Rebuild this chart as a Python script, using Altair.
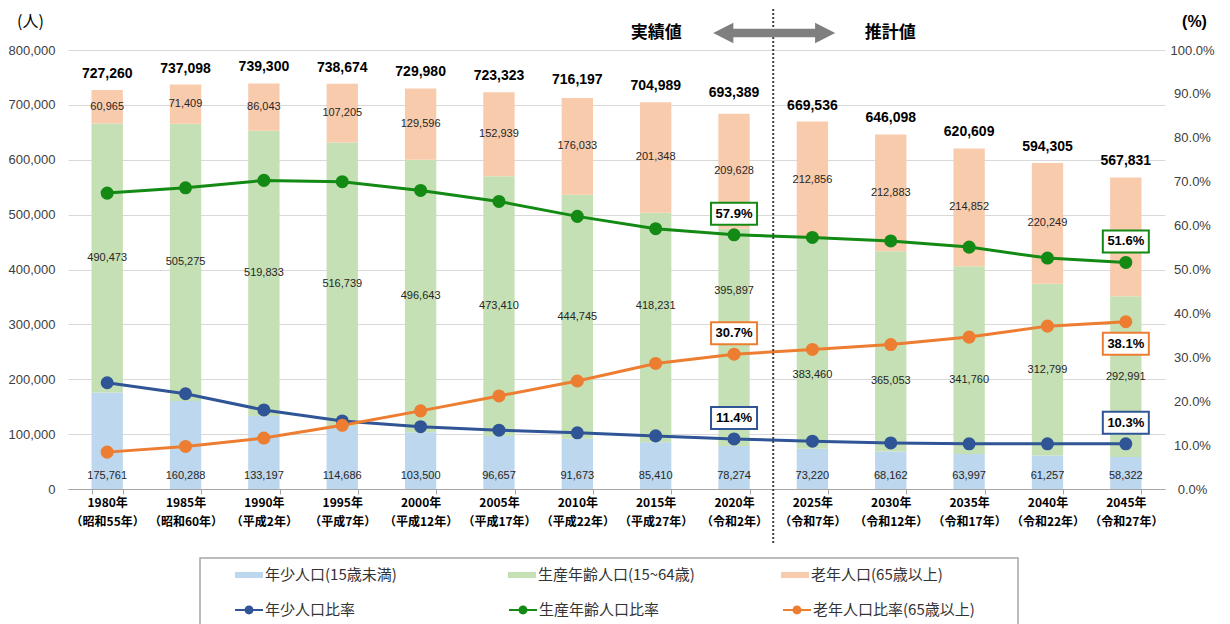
import altair as alt
import pandas as pd

# ---------------- data ----------------
years = ["1980年", "1985年", "1990年", "1995年", "2000年", "2005年", "2010年",
         "2015年", "2020年", "2025年", "2030年", "2035年", "2040年", "2045年"]
eras = ["（昭和55年）", "（昭和60年）", "（平成2年）", "（平成7年）", "（平成12年）",
        "（平成17年）", "（平成22年）", "（平成27年）", "（令和2年）", "（令和7年）",
        "（令和12年）", "（令和17年）", "（令和22年）", "（令和27年）"]
youth = [175761, 160288, 133197, 114686, 103500, 96657, 91673, 85410, 78274,
         73220, 68162, 63997, 61257, 58322]
working = [490473, 505275, 519833, 516739, 496643, 473410, 444745, 418231, 395897,
           383460, 365053, 341760, 312799, 292991]
elderly = [60965, 71409, 86043, 107205, 129596, 152939, 176033, 201348, 209628,
           212856, 212883, 214852, 220249, 216518]
total = [727260, 737098, 739300, 738674, 729980, 723323, 716197, 704989, 693389,
         669536, 646098, 620609, 594305, 567831]
youth_ratio = [24.2, 21.7, 18.0, 15.5, 14.2, 13.4, 12.8, 12.1, 11.4, 10.9, 10.5, 10.3, 10.3, 10.3]
working_ratio = [67.4, 68.6, 70.3, 70.0, 68.0, 65.5, 62.1, 59.3, 57.9, 57.3, 56.5, 55.1, 52.6, 51.6]
elderly_ratio = [8.4, 9.7, 11.6, 14.5, 17.8, 21.2, 24.6, 28.6, 30.7, 31.8, 32.9, 34.6, 37.1, 38.1]

bar_series = ["年少人口(15歳未満)", "生産年齢人口(15~64歳)", "老年人口(65歳以上)"]
ratio_series = ["年少人口比率", "生産年齢人口比率", "老年人口比率(65歳以上)"]
bar_colors = ["#BDD7EE", "#C5E0B4", "#F8CBAD"]
line_colors = ["#2F5597", "#138A13", "#ED7D31"]

# label anchors for working-age labels that were moved in the original (people units)
working_label_anchor = {"2015年": 332700, "2020年": 360600, "2025年": 208600,
                        "2030年": 196400, "2035年": 199500}
hidden_labels = {("2045年", 2)}
callout_years = ["2020年", "2045年"]
callout_below = {("2045年", 2)}

cats = [f"{y}|{e}" for y, e in zip(years, eras)]

# ---------------- tables ----------------
bar_rows = []
for i, c in enumerate(cats):
    vals = [youth[i], working[i], elderly[i]]
    base = 0
    for k, s in enumerate(bar_series):
        v = vals[k]
        mid = base + v / 2
        if k == 1 and years[i] in working_label_anchor:
            mid = working_label_anchor[years[i]]
        lab = "" if (years[i], k) in hidden_labels else f"{v:,}"
        bar_rows.append(dict(cat=c, series=s, ord=k, value=v, mid=mid, zero=0, label=lab))
        base += v
bars_df = pd.DataFrame(bar_rows)

tot_df = pd.DataFrame(dict(cat=cats, total=total, label=[f"{t:,}" for t in total]))

ratio_rows = []
for i, c in enumerate(cats):
    for k, (s, r) in enumerate(zip(ratio_series, [youth_ratio[i], working_ratio[i], elderly_ratio[i]])):
        ratio_rows.append(dict(cat=c, series=s, ord=k, ratio=r / 100.0))
ratio_df = pd.DataFrame(ratio_rows)

call_rows = []
for i, c in enumerate(cats):
    if years[i] in callout_years:
        for k, (s, r) in enumerate(zip(ratio_series, [youth_ratio[i], working_ratio[i], elderly_ratio[i]])):
            call_rows.append(dict(cat=c, series=s, ord=k, ratio=r / 100.0, text=f"{r:.1f}%",
                                  below=(years[i], k) in callout_below))
call_df = pd.DataFrame(call_rows)

deco_df = pd.DataFrame(dict(cat=[cats[8]]))

# ---------------- style ----------------
W, H = 1097, 439
STEP = W / 14.0
JP = "Noto Sans CJK JP"
NUM = "Liberation Sans"

X = alt.X("cat:N", sort=cats, title=None,
          scale=alt.Scale(paddingInner=0.6, paddingOuter=0.3),
          axis=alt.Axis(labelExpr="isString(datum.value) ? split(datum.value, '|') : ''",
                        labelFont=JP, labelFontSize=12,
                        labelFontWeight="bold", labelColor="#000000", labelLineHeight=19,
                        labelPadding=3, labelAngle=0, labelOverlap=False, labelBound=False,
                        tickBand="extent", tickSize=5, tickColor="#A6A6A6",
                        domainColor="#A6A6A6", domainWidth=1.2, grid=False))


def yL(field):
    return alt.Y(f"{field}:Q", scale=alt.Scale(domain=[0, 800000], nice=False),
                 axis=alt.Axis(values=list(range(0, 800001, 100000)), format=",d", grid=True,
                               gridColor="#D9D9D9", domain=False, ticks=False, tickSize=0,
                               labelFont=NUM, labelFontSize=13, labelColor="#404040",
                               labelPadding=13, title="(人)", titleAngle=0, titleX=-38,
                               titleY=-29, titleAlign="center", titleBaseline="middle",
                               titleFont=JP, titleFontSize=16, titleFontWeight="normal",
                               titleColor="#000000"))


YR = alt.Y("ratio:Q", scale=alt.Scale(domain=[0, 1], nice=False),
           axis=alt.Axis(orient="right", values=[i / 10 for i in range(11)], format=".1%",
                         grid=False, domain=False, ticks=False, tickSize=0,
                         labelFont=NUM, labelFontSize=13, labelColor="#404040",
                         labelPadding=27, labelAlign="center", title="(%)", titleAngle=0,
                         titleX=29, titleY=-29, titleAlign="center", titleBaseline="middle",
                         titleFont=NUM, titleFontSize=16, titleFontWeight="bold",
                         titleColor="#000000"))

bar_sym = "M-1,-0.22H1V0.22H-1Z"
line_sym = "M-1,-0.08H1V0.08H-1Z M0.32,0A0.32,0.32 0 1,1 -0.32,0A0.32,0.32 0 1,1 0.32,0Z"
box_sym = "M-1,-0.478H1V0.478H-1Z"
arrow_sym = ("M-1,0 L-0.67,-0.17 L-0.67,-0.068 L0.67,-0.068 L0.67,-0.17 L1,0 "
             "L0.67,0.17 L0.67,0.068 L-0.67,0.068 L-0.67,0.17 Z")

# ---------------- left group (people) ----------------
bars = alt.Chart(bars_df).mark_bar().encode(
    x=X, y=yL("value"),
    fill=alt.Fill("series:N", scale=alt.Scale(domain=bar_series, range=bar_colors),
                  legend=alt.Legend(orient="none", legendX=167, legendY=511,
                                    direction="horizontal", columns=3, gridAlign="all",
                                    columnPadding=86, rowPadding=0, padding=0,
                                    symbolType=bar_sym, symbolSize=784, symbolStrokeWidth=0,
                                    labelFont=JP, labelFontSize=15, labelColor="#333333",
                                    labelOffset=2, labelLimit=400, title=None)),
    order=alt.Order("ord:Q", sort="ascending"),
)

youth_lbl = alt.Chart(bars_df).transform_filter("datum.ord == 0").mark_text(
    font=NUM, fontSize=11, color="#262626", baseline="middle", dy=-13
).encode(x=X, y=yL("zero"), text="label:N")

other_lbl = alt.Chart(bars_df).transform_filter("datum.ord > 0 && datum.label != ''").mark_text(
    font=NUM, fontSize=11, color="#262626", baseline="middle"
).encode(x=X, y=yL("mid"), text="label:N")

total_lbl = alt.Chart(tot_df).mark_text(
    font=NUM, fontSize=14, fontWeight="bold", color="#000000", baseline="bottom", dy=-9
).encode(x=X, y=yL("total"), text="label:N")

left = alt.layer(bars, youth_lbl, other_lbl, total_lbl)

# ---------------- right group (ratios) ----------------
line_layers = []
for k, s in enumerate(ratio_series):
    line_layers.append(
        alt.Chart(ratio_df).transform_filter(f"datum.ord == {k}").mark_line(
            strokeWidth=3, color=line_colors[k]
        ).encode(x=X, y=YR)
    )

dots = alt.Chart(ratio_df).mark_circle(size=170, opacity=1).encode(
    x=X, y=YR,
    color=alt.Color("series:N", scale=alt.Scale(domain=ratio_series, range=line_colors),
                    legend=alt.Legend(orient="none", legendX=167, legendY=546,
                                      direction="horizontal", columns=3, gridAlign="all",
                                      columnPadding=82, rowPadding=0, padding=0,
                                      symbolType=line_sym, symbolSize=784,
                                      symbolStrokeWidth=0, symbolOpacity=1,
                                      labelFont=JP, labelFontSize=15, labelColor="#333333",
                                      labelOffset=2, labelLimit=400, title=None)),
)

box_layers = []
for k, s in enumerate(ratio_series):
    for below in (False, True):
        off = 22 if below else -21
        flt = f"datum.ord == {k} && " + ("datum.below" if below else "!datum.below")
        box_layers.append(
            alt.Chart(call_df).transform_filter(flt).mark_point(
                shape=box_sym, size=2116, filled=True, fill="white", stroke=line_colors[k],
                strokeWidth=2, opacity=1, yOffset=off
            ).encode(x=X, y=YR)
        )
        box_layers.append(
            alt.Chart(call_df).transform_filter(flt).mark_text(
                font=NUM, fontSize=13, fontWeight="bold", color="#000000",
                baseline="middle", yOffset=off
            ).encode(x=X, y=YR, text="text:N")
        )

divider = alt.Chart(deco_df).mark_rule(
    strokeDash=[2, 2], strokeWidth=2, color="#404040", xOffset=STEP / 2
).encode(x=X, y=alt.value(-45), y2=alt.value(495))

hdr_actual = alt.Chart(deco_df).mark_text(
    text="実績値", font=JP, fontSize=17, fontWeight="bold", color="#000000",
    baseline="middle", align="center", xOffset=STEP / 2 - 117
).encode(x=X, y=alt.value(-17))
hdr_proj = alt.Chart(deco_df).mark_text(
    text="推計値", font=JP, fontSize=17, fontWeight="bold", color="#000000",
    baseline="middle", align="center", xOffset=STEP / 2 + 117
).encode(x=X, y=alt.value(-17))
arrow = alt.Chart(deco_df).mark_point(
    shape=arrow_sym, size=14884, filled=True, fill="#7F7F7F", strokeWidth=0, opacity=1,
    xOffset=STEP / 2 + 1
).encode(x=X, y=alt.value(-17))

legend_box = alt.Chart(deco_df).mark_rect(
    fillOpacity=0, stroke="#A6A6A6", strokeWidth=1.5
).encode(x=alt.value(132), x2=alt.value(950), y=alt.value(508), y2=alt.value(580))

right = alt.layer(*line_layers, dots, *box_layers,
                  divider, hdr_actual, hdr_proj, arrow, legend_box)

chart = alt.layer(left, right).resolve_scale(y="independent").properties(
    width=W, height=H,
    autosize=alt.AutoSizeParams(type="none"),
    padding={"left": 60, "top": 42, "right": 57, "bottom": 135},
    background="white",
).configure_view(strokeWidth=0)

chart.save("out.html", embed_options={"renderer": "svg", "actions": False})
